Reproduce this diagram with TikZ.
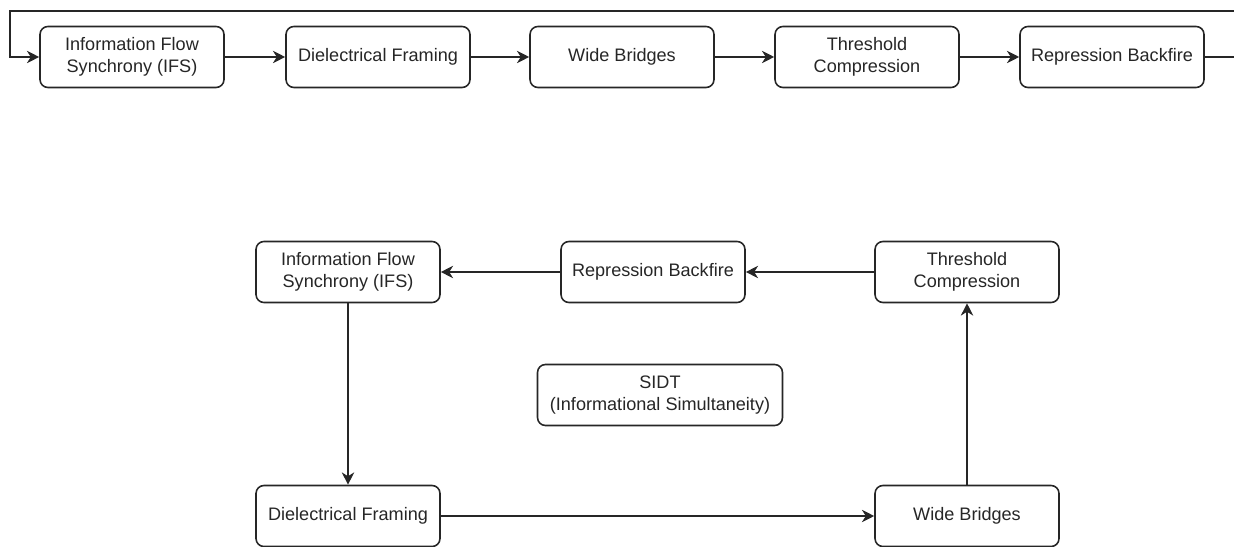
\documentclass[tikz,border=0pt]{standalone}
\usepackage{fontspec}
\setmainfont{Liberation Sans}
\usetikzlibrary{arrows.meta}

\begin{document}
\begin{tikzpicture}[x=0.02cm, y=-0.02cm,
        box/.style={draw=black!85, line width=0.9pt, rounded corners=4.5pt, minimum width=3.68cm, minimum height=1.22cm, inner sep=0pt, align=center, text=black!85, font=\fontsize{10.3}{12.3}\selectfont},
        flow/.style={draw=black!85, line width=0.9pt, -{Stealth[length=7pt, width=7pt, inset=2.2pt]}},
        link/.style={draw=black!85, line width=0.9pt}]
        \useasboundingbox (0,0) rectangle (1234,547);
        % top row
        \foreach \n/\x/\t in {t1/132/{Information Flow\\Synchrony (IFS)}, t2/378/{Dielectrical Framing}, t3/622/{Wide Bridges}, t4/867/{Threshold\\Compression}, t5/1112/{Repression Backfire}} {
                \node[box] (\n) at (\x,57) {\t};
            }
        \foreach \a/\b in {t1/t2, t2/t3, t3/t4, t4/t5} {
                \draw[flow] (\a) -- (\b);
            }
        \draw[flow] (t5.east) -| (1245,11) -| (10,57) -- (t1.west);
        % cycle
        \node[box] (ifs) at (348,272) {Information Flow\\Synchrony (IFS)};
        \node[box] (rb) at (653,272) {Repression Backfire};
        \node[box] (tc) at (967,272) {Threshold\\Compression};
        \node[box] (df) at (348,516) {Dielectrical Framing};
        \node[box] (wb) at (967,516) {Wide Bridges};
        \node[box, minimum width=4.9cm] (sidt) at (660,395) {SIDT\\(Informational Simultaneity)};
        \draw[flow] (ifs) -- (df);
        \draw[flow] (df) -- (wb);
        \draw[flow] (wb) -- (tc);
        \draw[flow] (tc) -- (rb);
        \draw[flow] (rb) -- (ifs);
    \end{tikzpicture}
\end{document}
